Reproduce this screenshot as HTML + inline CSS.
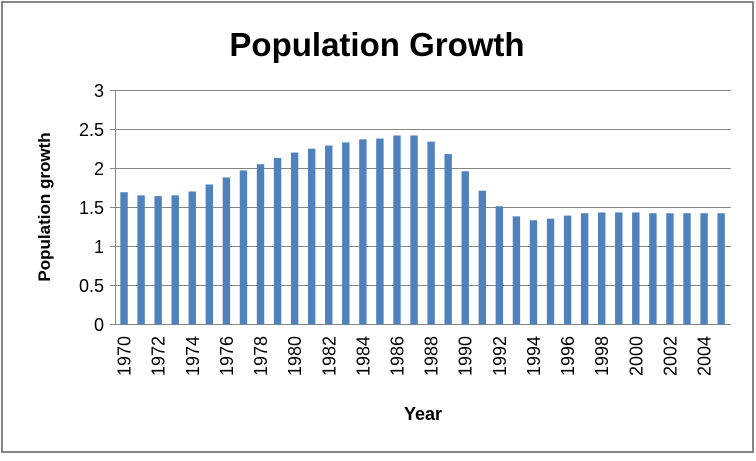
<!DOCTYPE html>
<html><head><style>body{margin:0;background:#fff}</style></head><body>
<svg width="756" height="456" xmlns="http://www.w3.org/2000/svg" font-family="Liberation Sans, sans-serif">
<rect x="0" y="0" width="756" height="456" fill="#fff"/>
<rect x="2" y="2" width="751" height="450" fill="#fff" stroke="#868686" stroke-width="2"/>
<text x="377" y="56" text-anchor="middle" font-size="33" font-weight="bold">Population Growth</text>
<g stroke="#868686" stroke-width="1">
<line x1="115.5" y1="90.5" x2="731" y2="90.5"/>
<line x1="115.5" y1="129.5" x2="731" y2="129.5"/>
<line x1="115.5" y1="168.5" x2="731" y2="168.5"/>
<line x1="115.5" y1="207.5" x2="731" y2="207.5"/>
<line x1="115.5" y1="246.5" x2="731" y2="246.5"/>
<line x1="115.5" y1="285.5" x2="731" y2="285.5"/>
<line x1="110" y1="324.5" x2="731" y2="324.5"/>
<line x1="115.5" y1="90" x2="115.5" y2="324"/>
<line x1="110" y1="90.5" x2="115.5" y2="90.5"/><line x1="110" y1="129.5" x2="115.5" y2="129.5"/><line x1="110" y1="168.5" x2="115.5" y2="168.5"/><line x1="110" y1="207.5" x2="115.5" y2="207.5"/><line x1="110" y1="246.5" x2="115.5" y2="246.5"/><line x1="110" y1="285.5" x2="115.5" y2="285.5"/>
</g>
<g font-size="18" text-anchor="end" fill="#000">
<text x="104" y="97">3</text><text x="104" y="136">2.5</text><text x="104" y="175">2</text><text x="104" y="214">1.5</text><text x="104" y="253">1</text><text x="104" y="292">0.5</text><text x="104" y="331">0</text>
</g>
<text transform="translate(50,207) rotate(-90)" text-anchor="middle" font-size="17" font-weight="bold">Population growth</text>
<text x="423" y="420" text-anchor="middle" font-size="18" font-weight="bold">Year</text>
<g id="bars" fill="#4f81bd"></g>
<g id="labels" font-size="18" text-anchor="end"></g>
<script>
var v=[1.70,1.66,1.65,1.66,1.71,1.80,1.89,1.98,2.06,2.14,2.21,2.26,2.30,2.34,2.38,2.39,2.43,2.43,2.35,2.19,1.97,1.72,1.52,1.39,1.34,1.36,1.40,1.43,1.44,1.44,1.44,1.43,1.43,1.43,1.43,1.43];
var b=document.getElementById('bars'),l=document.getElementById('labels'),ns='http://www.w3.org/2000/svg';
for(var i=0;i<36;i++){var c=115.5+17.06*(i+0.5);var h=v[i]*77.8;
var r=document.createElementNS(ns,'rect');r.setAttribute('x',c-3.7);r.setAttribute('width',7.4);r.setAttribute('y',324.5-h);r.setAttribute('height',h);b.appendChild(r);
if(i%2==0){var t=document.createElementNS(ns,'text');t.setAttribute('transform','translate('+(c+6.5)+',336) rotate(-90)');t.textContent=1970+i;l.appendChild(t);}}
</script>
</svg>
</body></html>
